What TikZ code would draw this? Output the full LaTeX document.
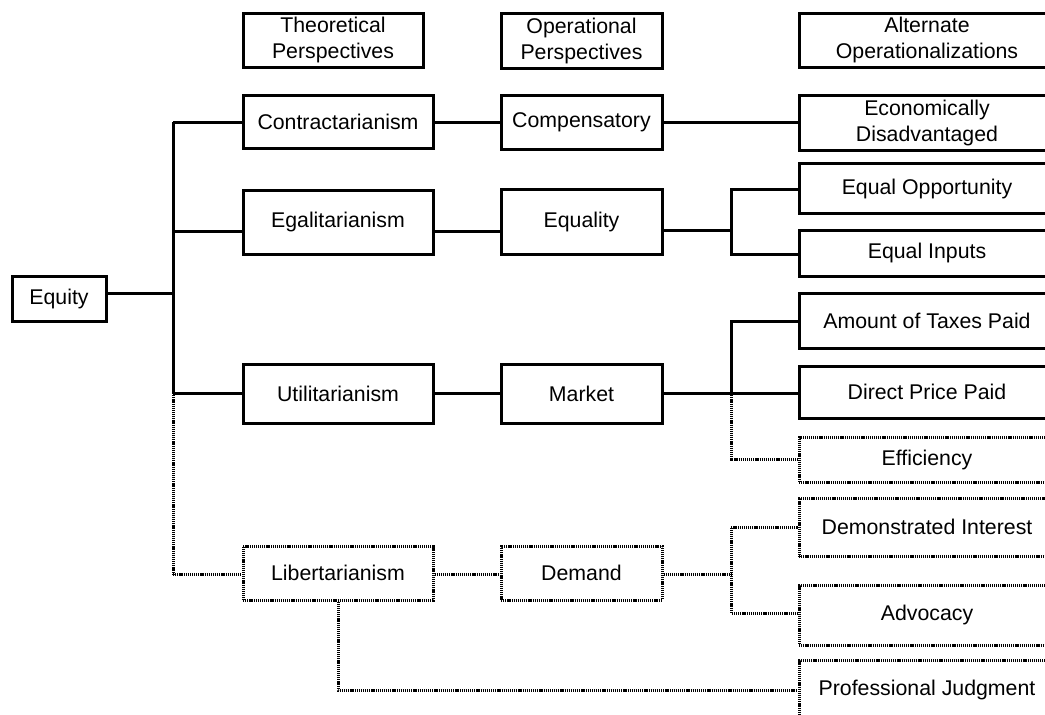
\documentclass[tikz,border=0pt]{standalone}
\usepackage{fontspec}
\setmainfont{Liberation Sans}
\begin{document}
\begin{tikzpicture}[x=1pt,y=-1pt,
  bx/.style={draw, line width=3pt, inner sep=0pt, align=center,
    font=\fontsize{21.3}{26}\selectfont},
  dotbx/.style={bx, dash pattern=on 1.2pt off 0.9pt},
  ln/.style={line width=3pt},
  dln/.style={line width=3pt, dash pattern=on 1.2pt off 0.9pt},
  colT/.style={minimum width=190pt},
  colO/.style={minimum width=161pt},
  colA/.style={minimum width=256pt}]
\useasboundingbox (0,0) rectangle (1045,715);
\clip (0,0) rectangle (1045,715);

% column headings
\node[bx, minimum width=180pt, minimum height=54pt] (hT) at (333,40) {Theoretical\\Perspectives};
\node[bx, colO, minimum height=55pt] (hO) at (581.5,40.5) {Operational\\Perspectives};
\node[bx, colA, minimum height=54pt] (hA) at (927,40) {Alternate\\Operationalizations};

% root
\node[bx, minimum width=94pt, minimum height=45pt] (equity) at (59,298.5) {Equity};

% theoretical perspectives
\node[bx, colT, minimum height=53pt] (contr) at (338,121.5) {Contractarianism};
\node[bx, colT, minimum height=64pt] (egal) at (338,222) {Egalitarianism};
\node[bx, colT, minimum height=59pt] (util) at (338,393.5) {Utilitarianism};
\node[dotbx, colT, minimum height=54pt] (lib) at (338,573) {Libertarianism};

% operational perspectives
\node[bx, colO, minimum height=54pt] (compen) at (581.5,122) {Compensatory\vphantom{C}};
\node[bx, colO, minimum height=65pt] (equal) at (581.5,221.5) {Equality};
\node[bx, colO, minimum height=59pt] (market) at (581.5,393.5) {Market};
\node[dotbx, colO, minimum height=54pt] (demand) at (581.5,573) {Demand};

% alternate operationalizations
\node[bx, colA, minimum height=55pt] (econ) at (927,122.5) {Economically\\Disadvantaged};
\node[bx, colA, minimum height=50pt] (eqopp) at (927,188.5) {Equal Opportunity};
\node[bx, colA, minimum height=46pt] (eqin) at (927,253) {Equal Inputs};
\node[bx, colA, minimum height=55pt] (taxes) at (927,320.5) {Amount of Taxes Paid};
\node[bx, colA, minimum height=52pt] (direct) at (927,392) {Direct Price Paid};
\node[dotbx, colA, minimum height=45pt] (effic) at (927,459.5) {Efficiency};
\node[dotbx, colA, minimum height=58pt] (demo) at (927,527) {Demonstrated Interest};
\node[dotbx, colA, minimum height=60pt] (advoc) at (927,615) {Advocacy};
\node[dotbx, colA, minimum height=60pt] (prof) at (927,690) {Professional Judgment};

% junction points
\coordinate (hub) at (173,293);
\coordinate (sC) at (173,122);
\coordinate (sE) at (173,231);
\coordinate (sU) at (173,393);
\coordinate (sL) at (173,574);
\coordinate (bEtop) at (731,189);
\coordinate (bEmid) at (731,230);
\coordinate (bEbot) at (731,254);
\coordinate (bMtop) at (731,321);
\coordinate (bMmid) at (731,393);
\coordinate (bMbot) at (731,459);
\coordinate (bDtop) at (731,527);
\coordinate (bDmid) at (731,574);
\coordinate (bDbot) at (731,613);
\coordinate (pj) at (338,690);

% main spine
\draw[ln] (equity.east |- hub) -- (hub);
\draw[ln] (sC) -- (sU);
\draw[dln] (sU) -- (sL);

% contractarianism row
\draw[ln] (sC) -- (contr.west |- sC);
\draw[ln] (contr.east |- sC) -- (compen.west |- sC);
\draw[ln] (compen.east |- sC) -- (econ.west |- sC);

% egalitarianism row
\draw[ln] (sE) -- (egal.west |- sE);
\draw[ln] (egal.east |- sE) -- (equal.west |- sE);
\draw[ln] (equal.east |- bEmid) -- (bEmid);
\draw[ln] (eqopp.west |- bEtop) -- (bEtop) -- (bEbot) -- (eqin.west |- bEbot);

% utilitarianism row
\draw[ln] (sU) -- (util.west |- sU);
\draw[ln] (util.east |- sU) -- (market.west |- sU);
\draw[ln] (market.east |- bMmid) -- (direct.west |- bMmid);
\draw[ln] (taxes.west |- bMtop) -- (bMtop) -- (bMmid);
\draw[dln] (bMmid) -- (bMbot) -- (effic.west |- bMbot);

% libertarianism row
\draw[dln] (sL) -- (lib.west |- sL);
\draw[dln] (lib.east |- sL) -- (demand.west |- sL);
\draw[dln] (demand.east |- bDmid) -- (bDmid);
\draw[dln] (demo.west |- bDtop) -- (bDtop) -- (bDbot) -- (advoc.west |- bDbot);
\draw[dln] (lib.south) -- (pj) -- (prof.west |- pj);
\end{tikzpicture}
\end{document}
